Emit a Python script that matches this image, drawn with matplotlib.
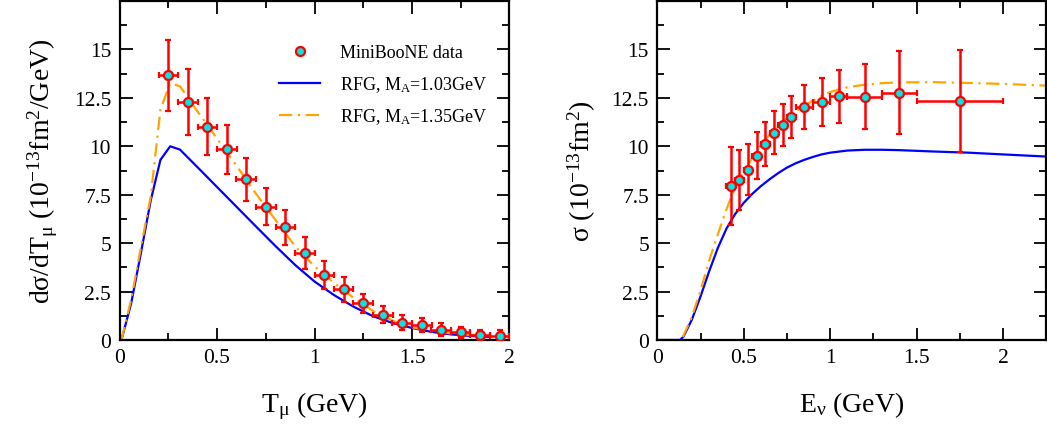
import matplotlib
matplotlib.use('Agg')
import matplotlib.pyplot as plt
from matplotlib.lines import Line2D
from matplotlib.ticker import MultipleLocator, FormatStrFormatter

# =========================================================
# data
# =========================================================
# left: d sigma / d T_mu
t_data = [0.25, 0.35, 0.45, 0.55, 0.65, 0.75, 0.85, 0.95, 1.05,
          1.15, 1.25, 1.35, 1.45, 1.55, 1.65, 1.75, 1.85, 1.95]
t_sigma = [13.66, 12.29, 11.0, 9.85, 8.29, 6.88, 5.82, 4.48, 3.35,
           2.61, 1.89, 1.30, 0.89, 0.76, 0.53, 0.39, 0.27, 0.21]
t_err = [1.82, 1.69, 1.47, 1.26, 1.11, 0.95, 0.91, 0.84, 0.72,
         0.63, 0.51, 0.44, 0.38, 0.35, 0.33, 0.28, 0.26, 0.3]
t_xerr = 0.05

t_rfg103_x = [0.01, 0.06, 0.11, 0.16, 0.21, 0.26, 0.31, 0.4, 0.5, 0.6, 0.7,
              0.8, 0.9, 1.0, 1.1, 1.2, 1.3, 1.4, 1.5, 1.6, 1.7, 1.8, 1.9]
t_rfg103_y = [0.0, 1.9, 4.5, 7.2, 9.3, 10.0, 9.83, 8.92, 7.9, 6.88, 5.86,
              4.85, 3.88, 3.02, 2.32, 1.72, 1.23, 0.88, 0.62, 0.42, 0.29, 0.21, 0.16]

t_rfg135_x = [0.01, 0.06, 0.11, 0.16, 0.21, 0.26, 0.31, 0.4, 0.5, 0.6, 0.7,
              0.8, 0.9, 1.0, 1.1, 1.2, 1.3, 1.4, 1.5, 1.6, 1.7, 1.8, 1.9]
t_rfg135_y = [0.0, 2.1, 4.8, 7.4, 11.9, 13.25, 13.1, 11.8, 10.4, 9.0, 7.55,
              6.2, 4.85, 3.8, 2.95, 2.18, 1.5, 1.0, 0.66, 0.46, 0.34, 0.26, 0.22]

# right: total sigma vs E_nu
e_data = [0.425, 0.475, 0.525, 0.575, 0.625, 0.675, 0.725, 0.775,
          0.85, 0.95, 1.05, 1.2, 1.4, 1.75]
e_sigma = [7.96, 8.25, 8.79, 9.51, 10.11, 10.69, 11.1, 11.53,
           12.01, 12.29, 12.58, 12.56, 12.77, 12.34]
e_err = [2.02, 1.55, 1.33, 1.22, 1.13, 1.11, 1.06, 1.09,
         1.13, 1.23, 1.38, 1.68, 2.13, 2.62]
e_xerr = [0.025] * 8 + [0.05, 0.05, 0.05, 0.1, 0.1, 0.25]

e_curve_x = [0.0, 0.13, 0.15, 0.2, 0.25, 0.3, 0.35, 0.4, 0.45, 0.5, 0.55,
             0.6, 0.65, 0.7, 0.75, 0.8, 0.85, 0.9, 0.95, 1.0, 1.1, 1.2,
             1.3, 1.4, 1.6, 1.8, 2.0, 2.25]
e_rfg103_y = [0.0, 0.0, 0.15, 1.05, 2.25, 3.55, 4.75, 5.75, 6.5, 7.08, 7.55,
              7.95, 8.3, 8.62, 8.9, 9.12, 9.3, 9.45, 9.58, 9.67, 9.78, 9.82,
              9.82, 9.8, 9.73, 9.67, 9.58, 9.47]
e_rfg135_y = [0.0, 0.0, 0.2, 1.2, 2.55, 4.1, 5.45, 6.75, 7.85, 8.7, 9.4,
              10.05, 10.6, 11.05, 11.45, 11.8, 12.1, 12.35, 12.6, 12.8, 13.05,
              13.18, 13.26, 13.3, 13.31, 13.27, 13.22, 13.13]

# =========================================================
# plotting
# =========================================================
plt.rcParams['font.family'] = ['Liberation Serif', 'DejaVu Serif']
plt.rcParams['mathtext.fontset'] = 'custom'
plt.rcParams['mathtext.rm'] = 'Liberation Serif'
plt.rcParams['mathtext.it'] = 'Liberation Serif:italic'
plt.rcParams['mathtext.default'] = 'rm'

orange = '#FFA500'
dashdot = (0, (6, 2.5, 1, 2.5))
pt_style = dict(fmt='o', ms=6.5, mfc='#00E5E5', mec='#FF0000', mew=1.6,
                ecolor='#FF0000', elinewidth=1.8, capsize=2, capthick=1.5,
                zorder=5)

fig = plt.figure(figsize=(10.47, 4.31), dpi=100)
ax1 = fig.add_axes([119.5 / 1047, 90 / 431, 390 / 1047, 339 / 431])
ax2 = fig.add_axes([657.3 / 1047, 90 / 431, 389 / 1047, 339 / 431])


def style(ax, xmax):
    ax.set_ylim(0, 17.5)
    ax.set_xlim(0, xmax)
    ax.xaxis.set_major_locator(MultipleLocator(0.5))
    ax.xaxis.set_minor_locator(MultipleLocator(0.25))
    ax.yaxis.set_minor_locator(MultipleLocator(1.25))
    ax.xaxis.set_major_formatter(FormatStrFormatter('%g'))
    ax.yaxis.set_major_formatter(FormatStrFormatter('%g'))
    ax.set_yticks([0, 2.5, 5, 7.5, 10, 12.5, 15])
    ax.tick_params(which='both', direction='in', top=True, right=True,
                   labelsize=15.5, width=1.3)
    ax.tick_params(which='major', length=9, pad=6)
    ax.tick_params(which='minor', length=5)
    for s in ax.spines.values():
        s.set_linewidth(1.6)


# left panel
l103, = ax1.plot(t_rfg103_x, t_rfg103_y, color='#0000FF', lw=1.6)
l135, = ax1.plot(t_rfg135_x, t_rfg135_y, color=orange, lw=1.6,
                 linestyle=dashdot)
ax1.errorbar(t_data, t_sigma, yerr=t_err, xerr=t_xerr, **pt_style)
style(ax1, 2)
ax1.set_xlabel(r'T$_\mathrm{μ}$ (GeV)', fontsize=20, labelpad=16)
ax1.set_ylabel(r'dσ/dT$_\mathrm{μ}$ (10$^{-13}$fm$^2$/GeV)', fontsize=20,
               labelpad=10)

dot = Line2D([], [], ls='none', marker='o', ms=6.5, mfc='#00E5E5',
             mec='#FF0000', mew=1.6)
ax1.legend([dot, l103, l135],
           ['MiniBooNE data', r'RFG, M$_\mathrm{A}$=1.03GeV',
            r'RFG, M$_\mathrm{A}$=1.35GeV'],
           loc='upper right', bbox_to_anchor=(0.985, 0.92), frameon=False,
           fontsize=13, handlelength=2.3, labelspacing=0.7,
           handletextpad=1.1)

# right panel
ax2.plot(e_curve_x, e_rfg103_y, color='#0000FF', lw=1.6)
ax2.plot(e_curve_x, e_rfg135_y, color=orange, lw=1.6, linestyle=dashdot)
ax2.errorbar(e_data, e_sigma, yerr=e_err, xerr=e_xerr, **pt_style)
style(ax2, 2.25)
ax2.set_xlabel(r'E$_\mathrm{ν}$ (GeV)', fontsize=20, labelpad=16)
ax2.set_ylabel(r'σ (10$^{-13}$fm$^2$)', fontsize=20, labelpad=10)

plt.savefig('out.png', dpi=100)
